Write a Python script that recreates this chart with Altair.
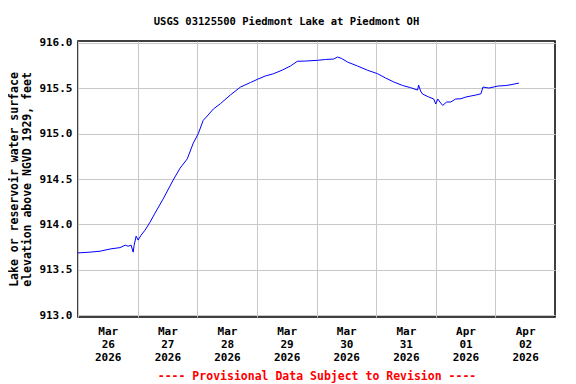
import altair as alt
import pandas as pd

# Hours since 2026-03-26 00:00 and lake elevation (ft, NGVD 1929)
hours = [0, 4.8, 8.9, 13.3, 16.9, 19.0, 20.2, 21.4, 22.2, 22.6, 23.4, 24.2, 25.4, 27.0, 29.0,
         31.0, 34.3, 38.3, 41.1, 44.0, 46.4, 48.4, 50.4, 52.0, 54.5, 57.3, 61.3, 65.4, 69.4,
         72.2, 75.4, 78.7, 82.3, 85.5, 88.3, 91.6, 96.4, 99.6, 102.9, 104.5, 106.1, 108.5,
         112.5, 116.6, 120.6, 123.8, 127.1, 130.7, 133.9, 136.7, 137.1, 137.9, 138.7, 141.2,
         143.2, 144.0, 144.8, 146.0, 146.8, 148.4, 150.0, 152.0, 154.1, 156.1, 158.1, 160.1,
         162.2, 163.0, 165.4, 169.0, 172.2, 174.3, 177.5]
elev = [913.685, 913.693, 913.704, 913.730, 913.743, 913.770, 913.759, 913.770, 913.693,
        913.770, 913.870, 913.826, 913.881, 913.936, 914.024, 914.124, 914.281, 914.488,
        914.620, 914.723, 914.896, 914.999, 915.147, 915.194, 915.272, 915.330, 915.426,
        915.514, 915.564, 915.599, 915.636, 915.661, 915.702, 915.746, 915.798, 915.801,
        915.809, 915.818, 915.823, 915.845, 915.829, 915.790, 915.746, 915.699, 915.661,
        915.614, 915.570, 915.531, 915.507, 915.481, 915.536, 915.470, 915.437, 915.404,
        915.382, 915.327, 915.382, 915.338, 915.312, 915.349, 915.349, 915.382, 915.385,
        915.404, 915.415, 915.426, 915.440, 915.514, 915.503, 915.525, 915.531, 915.540,
        915.558]

day_ticks = ["2026-03-26", "2026-03-27", "2026-03-28", "2026-03-29",
             "2026-03-30", "2026-03-31", "2026-04-01", "2026-04-02"]
y_ticks = [913.0, 913.5, 914.0, 914.5, 915.0, 915.5, 916.0]

start = pd.Timestamp("2026-03-26")
df = pd.DataFrame({
    "time": [start + pd.Timedelta(hours=h) for h in hours],
    "elev": elev,
})

tick_dt = [alt.DateTime(year=int(d[:4]), month=int(d[5:7]), date=int(d[8:10])) for d in day_ticks]

FONT = "DejaVu Sans Mono"

chart = alt.Chart(df).mark_line(color="#0000ff", strokeWidth=1).encode(
    x=alt.X(
        "time:T",
        scale=alt.Scale(domain=[alt.DateTime(year=2026, month=3, date=26),
                                alt.DateTime(year=2026, month=4, date=3)], nice=False),
        axis=alt.Axis(
            values=tick_dt,
            labelExpr="[timeFormat(datum.value, '%b'), timeFormat(datum.value, '%d'), timeFormat(datum.value, '%Y')]",
            labelOffset=29.75,
            labelFlush=False,
            labelOverlap=False,
            labelPadding=8,
            labelLineHeight=13,
            labelFont=FONT, labelFontSize=11, labelFontWeight="bold", labelColor="black",
            ticks=False, domain=False,
            gridColor="#c8c8c8", gridWidth=1, gridOpacity=1,
            title="---- Provisional Data Subject to Revision ----",
            titleColor="#ff0000", titleFont=FONT, titleFontSize=11.5, titleFontWeight="bold",
            titlePadding=8,
        ),
    ),
    y=alt.Y(
        "elev:Q",
        scale=alt.Scale(domain=[912.978, 916.022], nice=False, zero=False),
        axis=alt.Axis(
            values=y_ticks, format=".1f",
            labelFont=FONT, labelFontSize=11, labelFontWeight="bold", labelColor="black",
            labelPadding=6, ticks=False, domain=False,
            gridColor="#c8c8c8", gridWidth=1, gridOpacity=1,
            title=["Lake or reservoir water surface", "elevation above NGVD 1929, feet"],
            titleFont=FONT, titleFontSize=11.5, titleFontWeight="bold", titleColor="black",
            titleLineHeight=13, titlePadding=6,
        ),
    ),
).properties(
    width=477, height=276,
    title=alt.Title("USGS 03125500 Piedmont Lake at Piedmont OH", font=FONT, fontSize=10.5,
                    fontWeight="bold", color="black", anchor="middle", dx=-30, offset=9),
    padding={"left": 0, "top": 9, "right": 5, "bottom": 2},
).configure_view(
    stroke="black", strokeWidth=1.5
)

chart.save("out.html", embed_options={"renderer": "svg", "actions": False})
